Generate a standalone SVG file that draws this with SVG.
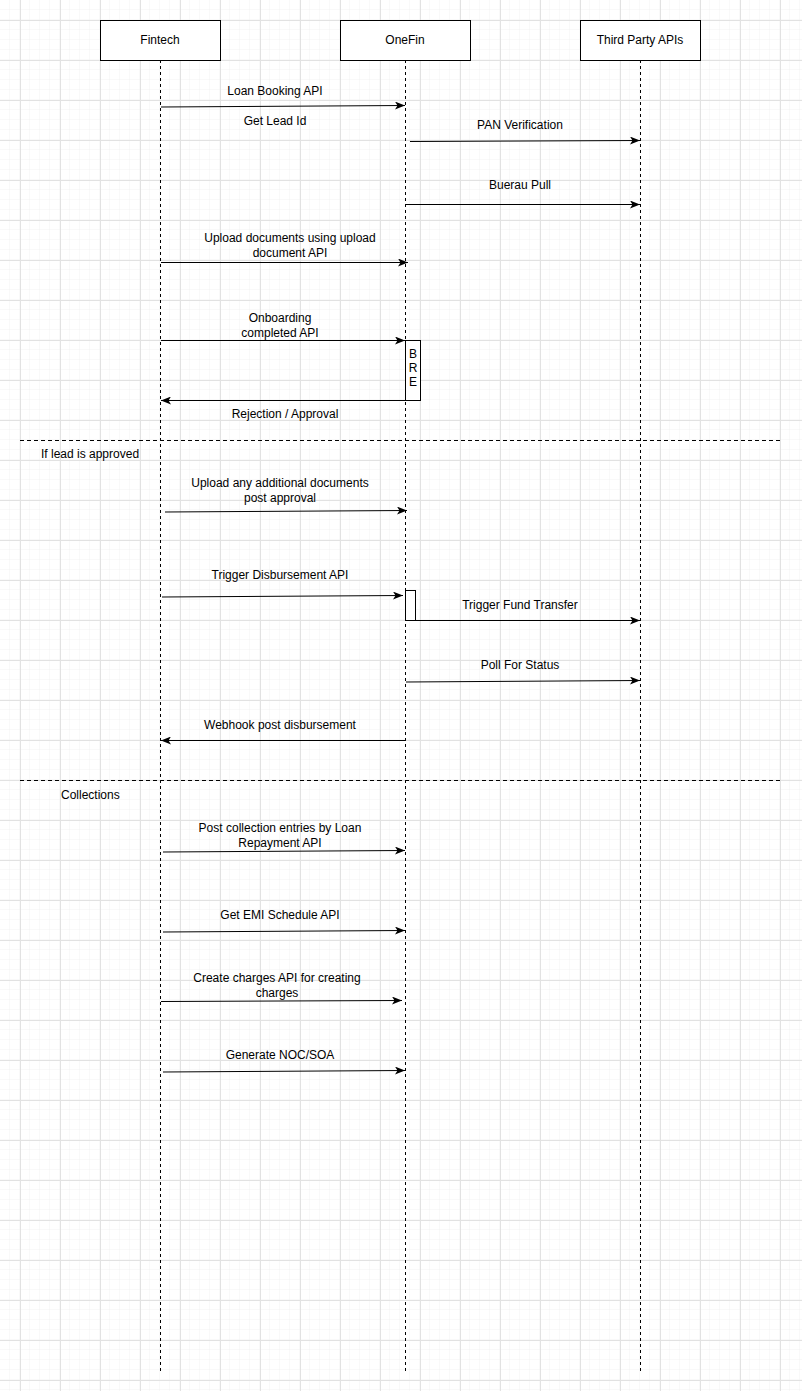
<svg xmlns="http://www.w3.org/2000/svg" width="802" height="1391" viewBox="0 0 802 1391">
<style>
.t{font-family:"Liberation Sans",Arial,Helvetica,sans-serif;font-size:12px;fill:#000;text-anchor:middle}
.tl{font-family:"Liberation Sans",Arial,Helvetica,sans-serif;font-size:12px;fill:#000;text-anchor:start}
.box{fill:#fff;stroke:#000;stroke-width:1}
.life{stroke:#000;stroke-width:1;stroke-dasharray:3 3;fill:none}
.sep{stroke:#000;stroke-width:1;stroke-dasharray:4 3;fill:none}
.msg{stroke:#000;stroke-width:1;fill:none;marker-end:url(#ah)}
</style>
<defs>
<pattern id="minor" width="10" height="10" patternUnits="userSpaceOnUse">
<path d="M10 0V10M0 10H10" stroke="#f2f2f2" stroke-width="1" fill="none"/>
</pattern>
<pattern id="major" x="20" y="20" width="40" height="40" patternUnits="userSpaceOnUse">
<path d="M0.5 0V40M0 0.5H40" stroke="#e2e2e2" stroke-width="1" fill="none"/>
</pattern>
<marker id="ah" markerWidth="10" markerHeight="8" refX="10" refY="4" orient="auto" markerUnits="userSpaceOnUse">
<path d="M0 0L10 4L0 8L2.5 4Z" fill="#000"/>
</marker>
</defs>
<rect width="802" height="1391" fill="#fff"/>
<rect width="802" height="1391" fill="url(#minor)"/>
<rect width="802" height="1391" fill="url(#major)"/>

<g id="fintech">
<line class="life" x1="160.5" y1="60" x2="160.5" y2="1371"/>
<rect class="box" x="100.5" y="20.5" width="120" height="40"/>
<text class="t" x="160" y="44">Fintech</text>
</g>
<g id="onefin">
<line class="life" x1="405.5" y1="60" x2="405.5" y2="1371"/>
<rect class="box" x="340.5" y="20.5" width="130" height="40"/>
<text class="t" x="405" y="44">OneFin</text>
</g>
<g id="thirdparty">
<line class="life" x1="640.5" y1="60" x2="640.5" y2="1371"/>
<rect class="box" x="580.5" y="20.5" width="120" height="40"/>
<text class="t" x="640" y="44">Third Party APIs</text>
</g>
<g id="bre">
<rect class="box" x="405.5" y="340.5" width="15" height="60"/>
<text class="t" x="413" y="358">B</text>
<text class="t" x="413" y="372">R</text>
<text class="t" x="413" y="386">E</text>
</g>
<g id="activation">
<rect class="box" x="405.5" y="590.5" width="10" height="30"/>
</g>

<g id="separators">
<line class="sep" x1="20" y1="440.5" x2="780" y2="440.5"/>
<text class="tl" x="41" y="458">If lead is approved</text>
<line class="sep" x1="20" y1="780.5" x2="780" y2="780.5"/>
<text class="tl" x="61" y="799">Collections</text>
</g>

<g id="connectors">
<path class="msg" d="M161 107L405 105.5"/>
<text class="t" x="275" y="95">Loan Booking API</text>
<text class="t" x="275" y="125">Get Lead Id</text>

<path class="msg" d="M410 141.5L640 140.5"/>
<text class="t" x="520" y="129">PAN Verification</text>

<path class="msg" d="M406 204.5L640 204.5"/>
<text class="t" x="520" y="189">Buerau Pull</text>

<path class="msg" d="M161 262.5L408 262.5"/>
<text class="t" x="290" y="242">Upload documents using upload</text>
<text class="t" x="290" y="257">document API</text>

<path class="msg" d="M161 340.5L405 340.5"/>
<text class="t" x="280" y="322">Onboarding</text>
<text class="t" x="280" y="337">completed API</text>

<path class="msg" d="M405 400.5L161 400.5"/>
<text class="t" x="285" y="418">Rejection / Approval</text>

<path class="msg" d="M165 512L407 510.5"/>
<text class="t" x="280" y="487">Upload any additional documents</text>
<text class="t" x="280" y="502">post approval</text>

<path class="msg" d="M162 597L403 595.5"/>
<text class="t" x="280" y="579">Trigger Disbursement API</text>

<path class="msg" d="M415 620.5L640 620.5"/>
<text class="t" x="520" y="609">Trigger Fund Transfer</text>

<path class="msg" d="M406 682L640 680.5"/>
<text class="t" x="520" y="669">Poll For Status</text>

<path class="msg" d="M405 740.5L161 740.5"/>
<text class="t" x="280" y="729">Webhook post disbursement</text>

<path class="msg" d="M163 852L405 850.5"/>
<text class="t" x="280" y="832">Post collection entries by Loan</text>
<text class="t" x="280" y="847">Repayment API</text>

<path class="msg" d="M163 932L405 930.5"/>
<text class="t" x="280" y="919">Get EMI Schedule API</text>

<path class="msg" d="M161 1001.5L402 1000.5"/>
<text class="t" x="277" y="982">Create charges API for creating</text>
<text class="t" x="277" y="997">charges</text>

<path class="msg" d="M163 1072L405 1070.5"/>
<text class="t" x="280" y="1059">Generate NOC/SOA</text>
</g>
</svg>
